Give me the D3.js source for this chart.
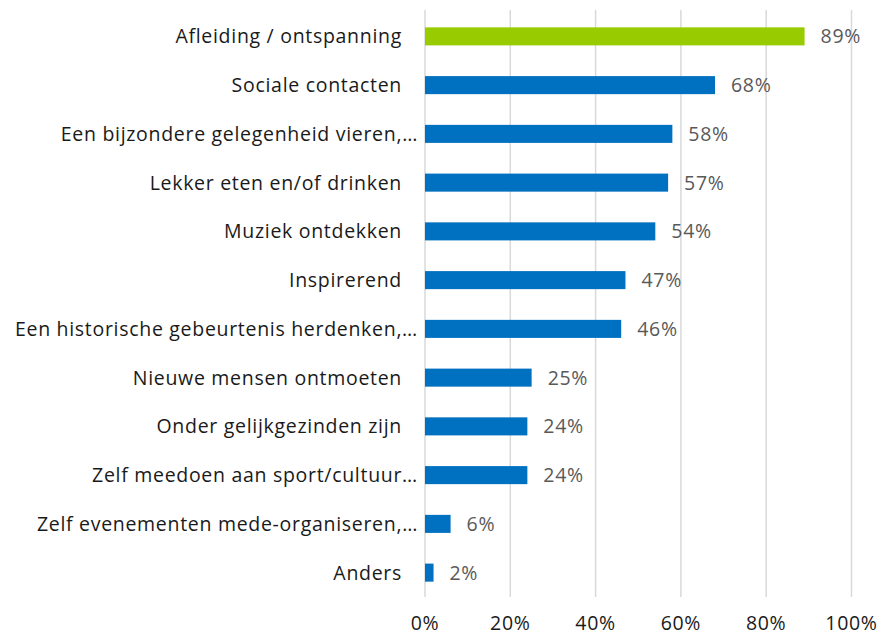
<!DOCTYPE html>
<html><head><meta charset="utf-8">
<script src="https://cdn.jsdelivr.net/npm/d3@7"></script>
<style>body{margin:0;background:#fff}svg{display:block}</style>
</head><body>
<svg id="chart" width="881" height="636"></svg>
<script>
const categories = ["Afleiding / ontspanning","Sociale contacten","Een bijzondere gelegenheid vieren,…","Lekker eten en/of drinken","Muziek ontdekken","Inspirerend","Een historische gebeurtenis herdenken,…","Nieuwe mensen ontmoeten","Onder gelijkgezinden zijn","Zelf meedoen aan sport/cultuur…","Zelf evenementen mede-organiseren,…","Anders"];
const values = [89,68,58,57,54,47,46,25,24,24,6,2];
const highlight = ["Afleiding / ontspanning"];
const ticks = [0,20,40,60,80,100];

const svg = d3.select("#chart");
const font = "'Open Sans', sans-serif";
const fs = 19.5, ls = 0.7;
const x = d3.scaleLinear().domain([0,100]).range([425,851.5]);
const y = d3.scaleBand().domain(categories).range([12,597]).paddingInner(0.63).paddingOuter(0.315);

svg.append("g").selectAll("line").data(ticks).join("line")
  .attr("x1",d=>x(d)).attr("x2",d=>x(d)).attr("y1",10).attr("y2",597)
  .attr("stroke","#d9d9d9").attr("stroke-width",1.5);

svg.append("g").selectAll("rect").data(values).join("rect")
  .attr("x",x(0)).attr("y",(d,i)=>y(categories[i]))
  .attr("width",d=>x(d)-x(0)).attr("height",y.bandwidth())
  .attr("fill",(d,i)=>highlight.includes(categories[i])?"#99cc00":"#0070c0");

svg.append("g").selectAll("text").data(values).join("text")
  .attr("x",d=>x(d)+16).attr("y",(d,i)=>y(categories[i])+y.bandwidth()/2)
  .attr("dy","0.36em").attr("font-family",font).attr("font-size",fs).attr("letter-spacing",ls)
  .attr("fill","#595959").text(d=>d+"%");

svg.append("g").selectAll("text").data(categories).join("text")
  .attr("x",d=>d.endsWith("…")?418:402).attr("y",d=>y(d)+y.bandwidth()/2)
  .attr("dy","0.36em").attr("text-anchor","end").attr("font-family",font).attr("font-size",fs).attr("letter-spacing",ls)
  .attr("fill","#1a1a1a").text(d=>d);

svg.append("g").selectAll("text").data(ticks).join("text")
  .attr("x",d=>x(d)).attr("y",630).attr("text-anchor","middle")
  .attr("font-family",font).attr("font-size",fs).attr("letter-spacing",ls).attr("fill","#1a1a1a").text(d=>d+"%");
</script>
</body></html>
